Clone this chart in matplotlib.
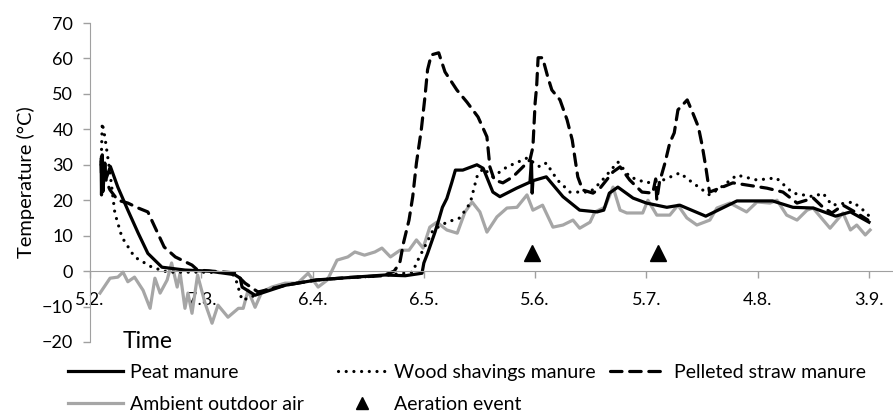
import matplotlib
matplotlib.use("Agg")
import matplotlib.pyplot as plt
from matplotlib.lines import Line2D

plt.rcParams['font.family'] = ['Lato', 'DejaVu Sans']

# days after 5.2.
tick_days = [0, 30, 60, 90, 120, 150, 180, 210]
tick_labels = ["5.2.", "7.3.", "6.4.", "6.5.", "5.6.", "5.7.", "4.8.", "3.9."]

peat_day = [3.0, 3.1, 3.3, 3.5, 4.0, 4.3, 5.5, 7.5, 10.2, 13.0, 15.6, 19.4, 25.6, 32.0,
            39.0, 40.5, 41.0, 44.5, 52.6, 61.0, 70.0, 79.5, 85.0, 89.5, 90.0, 91.0,
            92.0, 93.0, 94.0, 95.0, 96.2, 97.5, 98.5, 100.5, 104.3, 106.0, 108.6, 110.5,
            115.0, 118.6, 119.0, 119.2, 119.4, 123.0, 127.5, 132.0, 136.7, 138.5, 140.0,
            142.3, 146.4, 150.0, 155.5, 159.0, 166.0, 174.4, 184.0, 189.5, 195.0, 201.0,
            205.0, 210.0]
peat_temp = [31.5, 21.5, 32.8, 22.5, 30.5, 26.0, 29.5, 23.7, 17.2, 10.7, 5.0, 1.1, 0.3, 0.0,
             -1.0, -2.0, -4.5, -6.8, -4.0, -2.5, -1.8, -1.1, -1.3, -0.6, 2.3, 5.0,
             8.0, 11.0, 14.4, 18.0, 20.5, 24.9, 28.5, 28.5, 30.0, 29.0, 22.3, 21.0,
             23.4, 25.1, 31.0, 22.0, 25.5, 26.6, 21.0, 17.2, 16.7, 17.2, 22.0,
             23.7, 20.6, 19.2, 18.0, 18.6, 15.5, 19.8, 19.8, 18.0, 17.8, 15.5,
             16.7, 13.8]

wood_day = [3.0, 3.3, 4.0, 5.4, 6.7, 8.6, 12.0, 16.7, 21.0, 30.0, 38.3, 39.5, 41.0, 43.7,
            45.0, 52.6, 61.0, 70.0, 78.0, 87.0, 88.0, 89.8, 92.5, 96.2, 99.7, 102.5,
            104.3, 106.0, 108.6, 112.4, 117.8, 121.3, 123.0, 126.0, 129.4, 134.8, 137.5,
            142.3, 145.5, 150.0, 154.5, 159.0, 162.5, 167.0, 169.8, 174.4, 179.8, 185.0,
            189.5, 195.0, 197.6, 200.0, 205.7, 209.4, 210.0]
wood_temp = [30.0, 41.8, 37.9, 27.7, 16.4, 9.6, 4.0, 1.1, -0.3, -0.3, -0.5, -3.0, -8.2, -7.3,
             -6.0, -4.0, -2.5, -1.8, -1.4, -0.3, 2.3, 6.0, 11.6, 13.8, 15.0, 19.2,
             26.6, 29.0, 26.6, 29.4, 31.9, 29.4, 30.5, 25.7, 22.3, 22.3, 24.9,
             30.8, 26.6, 24.9, 25.7, 27.7, 24.9, 21.5, 23.4, 27.1, 25.7, 26.3,
             22.0, 21.0, 22.0, 18.6, 19.5, 16.4, 15.5]

straw_day = [3.0, 3.2, 3.5, 4.5, 5.4, 7.5, 10.2, 13.0, 15.6, 17.5, 20.0, 23.0, 27.5, 29.0,
             39.0, 41.8, 45.3, 52.6, 61.0, 70.0, 79.0, 82.0, 83.5, 84.5, 86.0, 87.0,
             88.0, 89.3, 90.3, 91.0, 92.0, 94.0, 95.7, 98.9, 101.6, 104.6, 107.0, 107.8,
             109.0, 111.3, 114.0, 116.7, 118.6, 119.4, 120.0, 120.4, 120.8, 122.0, 123.4,
             124.5, 126.7, 128.6, 130.0, 130.8, 131.5, 132.8, 135.6, 137.5, 141.0, 142.9,
             145.5, 148.8, 151.7, 152.5, 152.8, 153.5, 155.0, 156.3, 157.5, 158.5, 161.0,
             162.5, 164.0, 165.0, 166.0, 167.0, 169.8, 173.3, 177.0, 182.5, 186.8, 190.6,
             195.0, 197.6, 200.0, 203.0, 206.7, 209.7]
straw_temp = [31.0, 22.0, 29.0, 25.0, 22.9, 20.0, 19.2, 17.8, 16.7, 12.4, 6.8, 4.0, 1.7, 0.3,
              -0.5, -3.4, -5.9, -4.0, -2.5, -1.8, -1.3, 0.0, 2.3, 7.9, 14.4, 21.0,
              30.5, 39.8, 49.2, 56.8, 61.0, 61.6, 56.2, 51.1, 47.7, 43.5, 37.9, 29.4,
              25.7, 24.9, 26.6, 29.4, 31.4, 35.0, 47.5, 52.0, 60.2, 60.2, 54.8,
              51.1, 48.3, 42.7, 37.0, 31.4, 26.6, 22.9, 22.0, 23.4, 28.0, 29.4,
              25.7, 22.3, 22.0, 26.0, 20.0, 25.0, 30.5, 36.2, 39.0, 45.5, 48.3,
              44.6, 40.7, 35.6, 29.4, 22.3, 23.4, 24.9, 24.3, 23.4, 22.3, 19.2,
              20.6, 18.0, 16.4, 18.6, 16.4, 14.4]

air_day = [2.7, 5.4, 7.5, 8.9, 10.2, 12.0, 14.3, 16.2, 17.5, 18.9, 20.8, 22.0, 23.5, 24.3,
           25.6, 26.4, 27.5, 29.0, 31.0, 32.9, 34.5, 37.2, 40.0, 41.3, 42.6, 44.5, 46.3,
           49.0, 52.6, 56.0, 58.8, 61.5, 64.0, 66.6, 69.5, 71.4, 74.0, 76.8, 78.7, 81.0,
           83.6, 86.0, 88.0, 89.8, 91.6, 93.5, 96.2, 99.0, 101.1, 103.0, 105.1, 107.0,
           109.7, 112.4, 115.1, 117.8, 119.4, 122.0, 124.8, 127.5, 130.2, 132.0, 134.8,
           136.1, 138.8, 141.0, 142.9, 144.7, 149.0, 150.4, 152.8, 156.3, 158.5, 160.9,
           163.6, 167.1, 169.0, 172.5, 177.0, 179.8, 183.3, 185.2, 187.8, 190.6, 193.3,
           194.9, 199.5, 203.0, 205.0, 206.7, 209.0, 210.3]
air_temp = [-6.2, -2.0, -1.7, -0.3, -3.0, -1.7, -5.4, -10.5, -2.0, -6.2, -2.5, 2.3, -4.5, -0.6,
            -10.5, -6.2, -11.9, -1.1, -9.0, -14.7, -9.6, -13.0, -10.5, -10.5, -5.4, -10.2, -5.9,
            -4.5, -3.4, -3.4, -0.6, -4.5, -2.5, 3.1, 4.0, 5.4, 4.5, 5.4, 6.5, 4.0,
            5.9, 5.9, 8.8, 6.5, 12.4, 13.8, 11.6, 10.7, 16.7, 19.5, 16.7, 11.0,
            15.3, 17.8, 18.0, 21.5, 17.2, 18.6, 12.4, 13.0, 14.4, 12.1, 13.8,
            16.7, 18.0, 23.7, 17.2, 16.4, 16.4, 20.0, 15.8, 15.8, 18.6, 15.0,
            13.0, 14.4, 17.8, 19.2, 16.7, 19.5, 19.2, 20.0, 15.8, 14.4, 17.2,
            17.8, 12.1, 16.4, 11.6, 13.0, 10.2, 11.6]

aeration_day = [119.1, 153.0]
aeration_temp = [5.0, 5.0]

gray = "#A6A6A6"
axis_gray = "#A0A0A0"
dots = (0, (0.01, 2.4))
dashes = (0, (3.6, 2.4))

fig = plt.figure(figsize=(8.93, 4.18), dpi=100)
ax = fig.add_axes([90 / 893, 1 - 342 / 418, 803 / 893, 319 / 418])

ax.plot(air_day, air_temp, color=gray, lw=2.3, solid_joinstyle="round")
ax.plot(peat_day, peat_temp, color="black", lw=2.3, solid_joinstyle="round")
ax.plot(wood_day, wood_temp, color="black", lw=2.3, linestyle=dots, dash_capstyle="round")
ax.plot(straw_day, straw_temp, color="black", lw=2.3, linestyle=dashes, dash_capstyle="round")
ax.plot(aeration_day, aeration_temp, linestyle="none", marker="^", color="black",
        markersize=11)

ax.set_xlim(0, 803 / 3.7095)
ax.set_ylim(-20, 70)
ax.set_yticks(range(-20, 71, 10))
ax.set_xticks(tick_days)
ax.set_xticklabels(tick_labels)

for s in ["top", "right"]:
    ax.spines[s].set_visible(False)
ax.spines["left"].set_color(axis_gray)
ax.spines["bottom"].set_color(axis_gray)
ax.spines["bottom"].set_position(("data", 0))
ax.tick_params(axis="both", colors=axis_gray, labelcolor="black", labelsize=13,
               direction="out", length=5, width=1)
ax.tick_params(axis="x", pad=10)
ax.tick_params(axis="y", pad=7)

ax.set_ylabel("Temperature (°C)", fontsize=14.5, labelpad=5)
fig.text(148 / 893, 1 - 341 / 418, "Time", fontsize=16.5, ha="center", va="center")

h_peat = Line2D([], [], color="black", lw=2.3)
h_air = Line2D([], [], color=gray, lw=2.3)
h_wood = Line2D([], [], color="black", lw=2.3, linestyle=dots, dash_capstyle="round")
h_aer = Line2D([], [], color="black", linestyle="none", marker="^", markersize=8)
h_straw = Line2D([], [], color="black", lw=2.3, linestyle=dashes, dash_capstyle="round")

leg_kw = dict(loc="upper left", frameon=False, fontsize=14, borderpad=0,
              borderaxespad=0, handletextpad=0.36, labelspacing=0.75)
l1 = fig.legend([h_peat, h_air], ["Peat manure", "Ambient outdoor air"],
                bbox_to_anchor=(68 / 893, 1 - 364 / 418), handlelength=2.85, **leg_kw)
l2 = fig.legend([h_wood, h_aer], ["Wood shavings manure", "Aeration event"],
                bbox_to_anchor=(338 / 893, 1 - 364 / 418), handlelength=2.5, **leg_kw)
l3 = fig.legend([h_straw], ["Pelleted straw manure"],
                bbox_to_anchor=(610 / 893, 1 - 364 / 418), handlelength=2.95, **leg_kw)

fig.savefig("out.png", dpi=100)
